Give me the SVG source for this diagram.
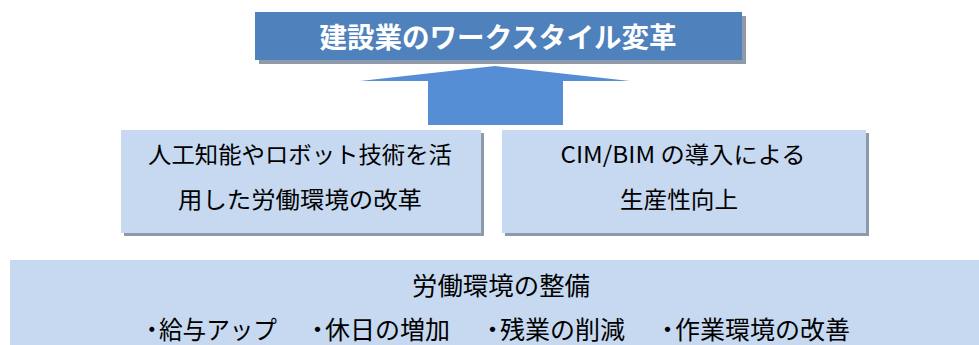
<svg xmlns="http://www.w3.org/2000/svg" width="979" height="345" viewBox="0 0 979 345">
<style>
.t{font-family:"Noto Sans CJK JP","Noto Sans",sans-serif;fill:#000;text-anchor:middle;dominant-baseline:central}
.s{text-anchor:start}
.box{fill:#c6d9f0}
.sh{fill:#8e9aaa}
</style>
<rect width="979" height="345" fill="#fff"/>
<g id="title">
<rect class="sh" x="259" y="16" width="487" height="48"/>
<rect x="255" y="12" width="487" height="48" fill="#4f81bd"/>
<text class="t" x="498" y="36" font-size="28" font-weight="bold" style="fill:#fff" textLength="357" lengthAdjust="spacingAndGlyphs">建設業のワークスタイル変革</text>
</g>
<g id="connectors">
<polygon points="495,66 630,81 563,81 563,125 428,125 428,81 360,81" fill="#558ed5"/>
</g>
<g id="ai">
<rect class="sh" x="124" y="133" width="360" height="103"/>
<rect class="box" x="121" y="130" width="360" height="103"/>
<text class="t" x="300" y="153" font-size="23" textLength="304" lengthAdjust="spacingAndGlyphs">人工知能やロボット技術を活</text>
<text class="t" x="300" y="198" font-size="23" textLength="244" lengthAdjust="spacingAndGlyphs">用した労働環境の改革</text>
</g>
<g id="cim">
<rect class="sh" x="505" y="133" width="364" height="103"/>
<rect class="box" x="502" y="130" width="364" height="103"/>
<text class="t" x="683" y="153" font-size="23" textLength="245" lengthAdjust="spacingAndGlyphs">CIM/BIM の導入による</text>
<text class="t" x="679" y="198" font-size="23" textLength="118" lengthAdjust="spacingAndGlyphs">生産性向上</text>
</g>
<g id="env">
<rect class="box" x="10" y="260" width="969" height="85"/>
<text class="t" x="501" y="284" font-size="25" textLength="178" lengthAdjust="spacingAndGlyphs">労働環境の整備</text>
<text class="t s" x="140" y="328" font-size="25" textLength="137" lengthAdjust="spacingAndGlyphs">・<tspan dx="-5">給与アップ</tspan></text>
<text class="t s" x="305" y="328" font-size="25">・<tspan dx="-5">休日の増加</tspan></text>
<text class="t s" x="480" y="328" font-size="25">・<tspan dx="-5">残業の削減</tspan></text>
<text class="t s" x="655" y="328" font-size="25">・<tspan dx="-5">作業環境の改善</tspan></text>
</g>
</svg>
